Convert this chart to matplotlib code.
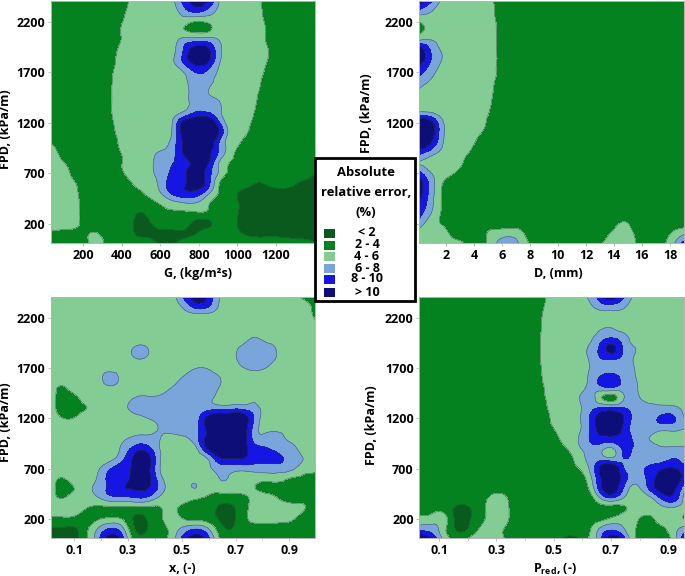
import numpy as np
import matplotlib
matplotlib.use("Agg")
import matplotlib.pyplot as plt
import matplotlib.tri as mtri
from matplotlib.patches import Rectangle

plt.rcParams['font.family'] = ['Open Sans', 'DejaVu Sans']
plt.rcParams['font.weight'] = 'bold'
plt.rcParams['mathtext.fontset'] = 'custom'
plt.rcParams['mathtext.bf'] = 'Open Sans:bold'

# Axis ranges
fpd_range = (2404, 13)
g_range = (34, 1402)
d_range = (0.1, 19)
x_range = (0.0145, 0.995)
pred_range = (0.031, 0.955)

fpd_ticks = [200, 700, 1200, 1700, 2200]
g_ticks = [200, 400, 600, 800, 1000, 1200]
d_ticks = [2, 4, 6, 8, 10, 12, 14, 16, 18]
x_ticks = [0.1, 0.3, 0.5, 0.7, 0.9]
x_minor = [0.2, 0.4, 0.6, 0.8]

level_edges = [-50, 2, 4, 6, 8, 10, 100]
level_colors = ['#0a5a1e', '#03821f', '#83cc93', '#7aa5da', '#1616e4', '#0e0e78']
level_labels = ['< 2', '2 - 4', '4 - 6', '6 - 8', '8 - 10', '> 10']

# Error, top row = highest FPD, 23 columns left to right
err_g = [
    [3,3,3,3,3,3,3,5,5,5,5.3,8.5,11,10.3,6,5,5,5,3,3,3,3,3],
    [3,3,3,3,3,3,3.6,5,5,5,5,7,8.5,7.5,5.5,5,5,5,3.3,3,3,3,3],
    [3,3,3,3,3,3,4,5,5,5,5,5,4.1,4.4,5,5,5,5,3.6,3,3,3,3],
    [3,3,3,3,3,3,4.3,5,5,5,5,4.3,3.5,3.7,5,5,5,5,3.8,3,3,3,3],
    [3,3,3,3,3,3,4.3,5,5,5,5,7,7.8,7.8,6.1,5,5,5,3.85,3,3,3,3],
    [3,3,3,3,3,3,5,5,5,5,5.3,8,11.5,11,6.7,5,5,5,4.2,3,3,3,3],
    [3,3,3,3,3,3.4,5,5,5,5,5.5,8.2,11,10.5,6.3,5,5,5,4,3,3,3,3],
    [3,3,3,3,3,3.7,5,5,5,5,5,6,8.1,7.8,5.7,5,5,5,3.6,3,3,3,3],
    [3,3,3,3,3,3.85,5,5,5,5,5,5.5,7,7,5.2,5,5,5,3,3,3,3,3],
    [3,3,3,3,3,3.9,5,5,5,5,5,5,7,6.2,5,5,5,4.5,3,3,3,3,3],
    [3,3,3,3,3,3.9,5,5,5,5,5,5.2,7,7,6.1,5,5,4.2,3,3,3,3,3],
    [3,3,3,3,3,3.9,5,5,5,5,5,6,7.9,7.9,6.5,5,5,3.9,3,3,3,3,3],
    [3,3,3,3,3,3.7,5,5,5,5,5.6,10.2,12,12,8.2,5,5,3.4,3,3,3,3,3],
    [3,3,3,3,3,3.4,5,5,5,5,5.7,11,12,12,10,5,4.4,3,3,3,3,3,3],
    [3.8,3,3,3,3,3,4.8,5,5,5,6.4,10.2,12,12,8,5,3.8,3,3,3,3,3,3],
    [5,3.4,3,3,3,3,4.3,5,5,6.1,7,10,12,11,7.7,4.7,3,3,3,3,3,3,3],
    [5,4.1,3,3,3,3,4.1,5,5,7,7.8,9,10.8,10.5,6,3.9,3,3,3,3,3,3,3],
    [5,5,3.2,3,3,3,3.9,5,5.4,6.7,8.2,9.5,11,9.4,5.8,3.4,3,3,3,3,3,3,2.1],
    [5,5,4.05,3,3,3,3,4.4,5,6.3,8.8,9.6,11,9.3,4.2,3,3,2.1,2.3,2.8,2.5,1.8,1.5],
    [5,5,4.4,3,3,3,3,3.5,4.3,5.7,8.3,9.5,9.5,7,3.9,2.8,1.5,1.5,1.5,1.5,1.5,1.5,1.5],
    [5,5,4.6,3,3,3,3,3,3.3,4.1,5.2,6,6.1,4.5,3,2.7,1.5,1.5,1.5,1.5,1.5,1.5,1.5],
    [5,5,4.7,3,3,3,3,2.2,2.3,3.7,3.8,3.8,3.8,3.7,3,2.7,1.5,1.5,1.5,1.5,1.5,1.5,1.5],
    [5,5,4.7,3,3,3,3,1.8,1.5,3,3,3,1.5,1.5,3,2.7,1.5,1.5,1.5,1.5,1.5,1.5,1.5],
    [3.5,3.5,3.3,3.8,3.9,3,3,1.9,1.5,1.5,1.6,1.8,1.8,3,3,2.7,1.9,1.6,1.6,1.6,1.6,1.6,1.5],
    [3,3,3,3.7,4.5,3,3,3,3,1.9,1.7,2.5,3,3,3,3,3,3,3,3,2.6,2.4,2.1],
]

err_d = [
    [11,8.2,5.5,5,5,5,4.2] + [3] * 16,
    [7.5,6.1,5,5,5,5,4.4] + [3] * 16,
    [4.1,5,5,5,5,5,4.6] + [3] * 16,
    [3.5,4.7,5,5,5,5,4.7] + [3] * 16,
    [6.5,6.3,5,5,5,5,4.8] + [3] * 16,
    [12,7.8,5.7,5,5,5,4.8] + [3] * 16,
    [11,7.8,5.7,5,5,5,4.8] + [3] * 16,
    [9,6.7,5.2,5,5,5,4.7] + [3] * 16,
    [7,5.7,5,5,5,5,4.4] + [3] * 16,
    [5.7,5,5,5,5,5,4.2] + [3] * 16,
    [5,5,5,5,5,5,4] + [3] * 16,
    [6.2,5.8,5,5,5,5,3.7] + [3] * 16,
    [12,10.3,6,5,5,5,3.2] + [3] * 16,
    [13,11.2,6.2,5,5,4.3,3] + [3] * 16,
    [12,10,6,5,5,3.4,3] + [3] * 16,
    [9,7,5.5,5,4.2,3,3] + [3] * 16,
    [5.9,5.2,5,5,3.4,3,3] + [3] * 16,
    [8.5,5.9,5,4,3,3,3] + [3] * 16,
    [11,7,3.9,3,3,3,3] + [3] * 16,
    [11,7,3.7,3,3,3,3] + [3] * 16,
    [10,6.6,3.6,3,3,3,3] + [3] * 16,
    [9,6,3.6,3,3,3,3] + [3] * 16,
    [7,5,3.7,3,3,3,3,3,3,3,3,3,3,3,3,3,3,4.2,3,3,3,3,3],
    [5.5,5,4.8,3,3,3,4.5,5,5,3.4,3,3,3,3,3,3,4.2,5,3.7,3,3,4.1,5.5],
    [5,5,5,5,3.5,3,5,7,6.5,4.2,3,3,3,3,3,3.7,5,5,4,3,3.2,5.3,8.6],
]

err_x = [
    [5,5,5,5,5,5,5,5,5,5,5,8,11,10,6.1,5,5,5,5,5,5,3.5,3],
    [5,5,5,5,5,5,5,5,5,5,5,6.2,8.5,8.2,5.8,5,5,5,5,5,5,5,3.3],
    [5,5,5,5,5,5,5,5,5,5,5,5,5,5,5,5,5,5,5,5,5,5,3.8],
    [5,5,5,5,5,5,5,5,5,5,5,5,5,5,5,5,5,5,5,5,5,5,4.6],
    [5,5,5,5,5,5,5,5,5,5,5,5,5,5,5,5,5,6,5,5,5,5,5],
    [5,5,5,5,5,5,5,6.1,6,5,5,5,5,5,5,5,6.5,7,6.9,5.5,5,5,5],
    [5,5,5,5,5,5,5,6.1,5.9,5,5,5,5,5,5,5.2,7,7,7,5.6,5,5,5],
    [5,5,5,5,5,5,5,5,5,5,5,5,5.8,5.8,5,5,6,6.5,6,5,5,5,5],
    [5,5,5,5,5.4,7,5.2,5,5,5,5,6.1,7,7,6.1,5,5,5,5,5,5,5,5],
    [5,3.8,5,5,5,5.7,5,5,5,5,5.9,7,7,7,6,5,5,5,5,5,5,5,5],
    [5,3,3.5,5,5,5,5,6,6.2,6.3,7,7,7,6.9,5.3,5,5,5.6,5,5,5,5,5],
    [5,3,3.1,4,5,5,5.3,7,7,7,7,7,7,7,7,7,7,6.6,5,5,5,5,5],
    [5,3.9,4,5,5,5,5,5.2,6.1,6.6,7,7,6.9,10.2,12,12,11.5,7.6,5,5,5,5,5],
    [5,5,5,5,5,5,5,5,5,6.1,7,7,7,10.5,12,12,11.5,7,5,5,5,5,5],
    [5,5,5,5,5,5,5.6,6.3,6.5,6.2,5.3,5.8,7,10.5,12,12,11.5,7,7,6.9,5.3,5,5],
    [5,5,5,5,5,5,6.5,8.6,8.7,6.1,5,5,5.5,10.2,12,12,11,8.6,8,7,6.6,5,5],
    [5,5,5,5,5,5.3,7.5,10.6,11,6.5,5,5,5,6.1,9.8,10.3,10.1,9,9,8.6,7,6,5],
    [5,5,5,5,5.8,7.8,9,10.8,11,6.3,5,5,5,5.5,7,7,7,7,7,7,6.7,5,5],
    [5,4,5,5,6.5,8.7,9.2,11,11,7,5,5,5.4,5,6,5.7,5,5,5,5,4,3.7,3],
    [5,3,4.1,5.3,7,8.6,9.9,10.3,10.2,7.6,5,5,6.05,5,5,5,5,4,3,3,3,3,3],
    [5,3.9,5,5,6,7.4,7.6,7.9,7.7,5.7,5,5,4.3,3.7,3,3,3.3,5,5,3.8,3,3,3],
    [5,5,5,4,3.5,3.5,3.5,3.5,3.5,3.8,4.6,3.3,3,3,1.8,1.7,3,5,5,5,5,4.3,3],
    [3.8,3.8,3.6,3,3.6,4.1,3.5,1.8,2.1,3.5,5,3.8,3,3,1.8,1.5,3.2,5,5,5,4.6,3,3],
    [2,1.9,1.9,3.6,6.2,7.9,6.1,1.9,1.9,3,4.6,6.3,7.5,6.2,3,1.9,3,3,3,3,3,3,3],
    [1.6,1.5,1.6,3.8,7.7,11,8.3,3,3,3.2,4.8,8.5,11,9,4.1,3,3,3,3,3,3,3,3],
]

err_pred = [
    [3] * 11 + [5,5,5,6.1,9,11,8,5.5,5,5,5,5],
    [3] * 10 + [3.4,5,5,5,5.4,6.7,7,6.2,5,5,5,5,5],
    [3] * 10 + [3.7,5,5,5,5,5,5,5,5,5,5,5,5],
    [3] * 10 + [3.8,5,5,5,5,5.6,5.9,5,5,5,5,5,5],
    [3] * 10 + [3.9,5,5,5,5.3,7,7.8,6.8,5,5,5,5,5],
    [3] * 10 + [3.9,5,5,5,6,8.3,10.5,7.6,5.9,5,5,5,5],
    [3] * 10 + [3.9,5,5,5,6,8,8.7,7.4,5.7,5,5,5,5],
    [3] * 10 + [3.8,5,5,5,5.8,7,7,7,5.8,5,5,5,5],
    [3] * 10 + [3.7,5,5,5,6,8.1,9,7.3,6,5,5,5,5],
    [3] * 10 + [3.4,5,5,5,6.3,7.4,8.1,7,6.2,5,5,5,5],
    [3] * 10 + [3.1,5,5,5.4,7,4.5,3,5.9,6.5,5,5,5,5],
    [3] * 10 + [3,4.6,5,5.3,7,7.9,7.9,7.9,7,6.8,6.5,6.4,5.5],
    [3] * 11 + [4.2,5,5.5,7.5,11,12,10,7,7,8.2,8.4,6],
    [3] * 11 + [3.8,5,5.4,7.5,11,12,9.5,7,7,7,7,6.2],
    [3] * 12 + [4.7,5.7,7.7,9.5,9.5,9.2,7.2,6.1,5,5,5],
    [3] * 12 + [3.7,5.3,7,7,6,8.5,7.5,6.8,6.2,6.2,6.2],
    [3] * 13 + [4.4,6.5,7,6,8.1,7,7,7,7.8,7],
    [3] * 13 + [3.8,5.7,10,12,8,7,8.2,9.2,10,8.5],
    [3] * 14 + [4.6,9.5,12,9,7,8.4,11,12,8.8],
    [3] * 14 + [3.8,9,11.5,7.8,5.5,8,11,11,7],
    [3,3,3,3,3,3,4.5,4.5,3,3,3,3,3,3,3,6,8.1,6,5,5.4,8,9.5,5.5],
    [3,3,3,1.8,1.8,3,5,5,3,3,3,3,3,3,3,3,3,3.7,5,5,5.4,5.9,5],
    [4.5,4.8,5,1.7,1.6,3,5,5,3,3,3,3,3,3,3,3,4.1,5,4.4,3.6,4.8,5,3.8],
    [6.8,6.8,4.8,1.9,1.9,4,5,4.1,3,3,3,3,3,3,3.4,6,7.3,6,4,3,3.4,5,6.5],
    [12,9.5,5.5,3.4,3.9,5,5,4.1,3,3,3,3,1.9,1.8,3.8,7.2,11,8.5,4,3,1.9,4.5,9],
]

FIG_W, FIG_H = 685, 576


def add_panel(err, xr, left, top, right, bottom, ticks, minor, xlabel, xlabel_px, ylabel_px, ylabel_frac):
    ax = fig.add_axes([left / FIG_W, 1 - bottom / FIG_H, (right - left) / FIG_W, (bottom - top) / FIG_H])
    gx = np.linspace(xr[0], xr[1], 23)
    gy = np.linspace(fpd_range[0], fpd_range[1], 25)
    xx, yy = np.meshgrid(gx, gy)
    # matplotlib's own refiner rounds the contours off the coarse grid
    tri = mtri.Triangulation(xx.ravel(), yy.ravel())
    refiner = mtri.UniformTriRefiner(tri)
    fine_tri, fine_z = refiner.refine_field(np.array(err, dtype=float).ravel(), subdiv=2)
    ax.tricontourf(fine_tri, fine_z, levels=level_edges, colors=level_colors)
    ax.tricontour(fine_tri, fine_z, levels=level_edges[1:-1], colors='#2a3a3a', linewidths=0.4, alpha=0.7)
    ax.set_xlim(xr)
    ax.set_ylim(fpd_range[1], fpd_range[0])
    ax.set_xticks(ticks)
    ax.set_xticks(minor, minor=True)
    ax.set_yticks(fpd_ticks)
    ax.tick_params(length=2, width=0.5, color='#aaaaaa', labelsize=9, pad=2)
    ax.tick_params(which='minor', length=1.5, width=0.5, color='#aaaaaa')
    ax.set_xlabel(xlabel, fontsize=9, fontweight='bold')
    ax.set_ylabel('FPD, (kPa/m)', fontsize=9, fontweight='bold')
    ax.xaxis.set_label_coords((xlabel_px - left) / (right - left), -24 / (bottom - top))
    ax.yaxis.set_label_coords((ylabel_px + 6 - left) / (right - left), ylabel_frac)
    for s in ax.spines.values():
        s.set_color('#b5b5b5')
        s.set_linewidth(0.7)
    return ax


fig = plt.figure(figsize=(FIG_W / 100, FIG_H / 100), dpi=100, facecolor='white')

add_panel(err_g, g_range, 51, 1, 315, 243, g_ticks, [], 'G, (kg/m²s)', 198, 6, 0.47)
add_panel(err_d, d_range, 419.3, 1, 684, 243, d_ticks, [], 'D, (mm)', 558, 367, 0.537)
add_panel(err_x, x_range, 51, 297, 315, 538, x_ticks, x_minor, 'x, (-)', 182, 6, 0.48)
add_panel(err_pred, pred_range, 419.3, 297, 684, 538, x_ticks, x_minor, r'P$_{\mathbf{red}}$, (-)', 555, 372, 0.47)

# Legend box in the middle of the figure
box = Rectangle((315 / FIG_W, 1 - 301 / FIG_H), 100 / FIG_W, 143 / FIG_H, transform=fig.transFigure,
                facecolor='white', edgecolor='black', linewidth=2, zorder=10)
fig.add_artist(box)
for txt, py in zip(['Absolute', 'relative error,', '(%)'], [173, 193, 212]):
    fig.text(366 / FIG_W, 1 - py / FIG_H, txt, ha='center', va='center', fontsize=9.4, fontweight='bold', zorder=11)
for c, lab, py in zip(level_colors, level_labels, [233, 245, 256, 268, 279, 292]):
    sw = Rectangle((324 / FIG_W, 1 - (py + 4.5) / FIG_H), 11 / FIG_W, 9 / FIG_H, transform=fig.transFigure,
                   facecolor=c, edgecolor='none', zorder=11)
    fig.add_artist(sw)
    fig.text(367 / FIG_W, 1 - py / FIG_H, lab, ha='center', va='center', fontsize=9, fontweight='bold', zorder=11)

fig.savefig('out.png', dpi=100)
